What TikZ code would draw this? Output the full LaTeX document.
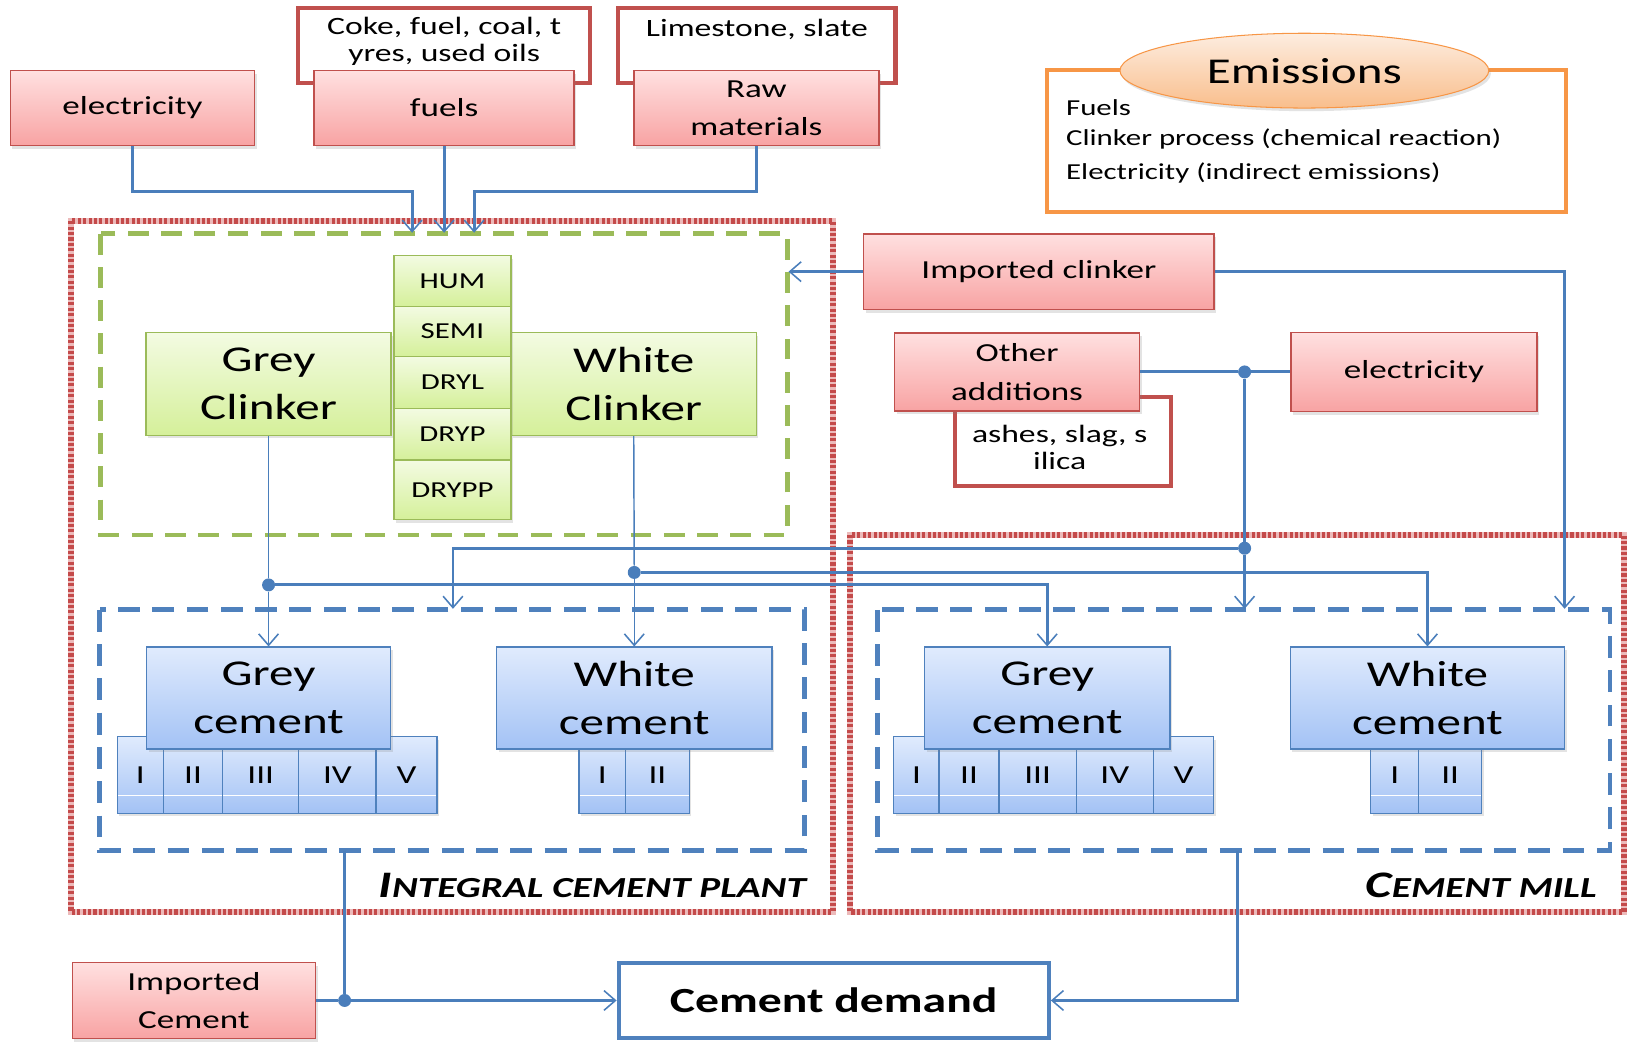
\documentclass[tikz,border=0pt]{standalone}
\usepackage{fontspec}
\setmainfont{Carlito}[FakeStretch=1.35]
\usetikzlibrary{arrows.meta,shapes.geometric,shadows}
\definecolor{rborder}{HTML}{C0504D}
\definecolor{rtop}{HTML}{FFE0E0}
\definecolor{rbot}{HTML}{F8A3A3}
\definecolor{gborder}{HTML}{9BBB59}
\definecolor{gtop}{HTML}{F3FBE2}
\definecolor{gbot}{HTML}{D5F09A}
\definecolor{bborder}{HTML}{4F81BD}
\definecolor{btop}{HTML}{E0EBFD}
\definecolor{bbot}{HTML}{A3C2F5}
\definecolor{lineblue}{HTML}{4A7EBB}
\definecolor{oborder}{HTML}{F79646}
\definecolor{otop}{HTML}{FDEDE0}
\definecolor{obot}{HTML}{F9BE8C}
\definecolor{dotred}{HTML}{C44A4A}
\definecolor{dotpink}{HTML}{ECBABA}
\newcommand{\fsz}[2]{\fontsize{#1}{#2}\selectfont}
\begin{document}
\begin{tikzpicture}[x=1pt,y=-1pt,
  shad/.style={drop shadow={opacity=0.22,shadow xshift=2pt,shadow yshift=-3pt}},
  redbox/.style={draw=rborder, line width=1.5pt, top color=rtop, bottom color=rbot, shad,
    align=center, inner sep=0pt, font=\fsz{25}{37}},
  notebox/.style={draw=rborder, line width=4pt, fill=white},
  notetext/.style={align=center, inner sep=0pt, font=\fsz{24}{26}},
  greenbox/.style={draw=gborder, line width=1.5pt, top color=gtop, bottom color=gbot, shad,
    align=center, inner sep=0pt, font=\fsz{35}{46}},
  humbox/.style={greenbox, font=\fsz{22}{22}, minimum width=113},
  bluebox/.style={draw=bborder, line width=1.5pt, top color=btop, bottom color=bbot, shad,
    align=center, inner sep=0pt, font=\fsz{35}{46}, minimum height=98},
  romanbox/.style={draw=bborder, line width=1.2pt, top color=btop, bottom color=bbot, shad,
    inner sep=0pt, font=\fsz{25}{25}, minimum height=73.8,
    path picture={\draw[white,line width=0.8pt]
      ([yshift=-20pt]path picture bounding box.west) -- ([yshift=-20pt]path picture bounding box.east);}},
  reddot/.style={draw=dotred, line width=5.5pt, dash pattern=on 3pt off 2.2pt,
    preaction={draw=dotpink, line width=5.5pt, solid}},
  greendash/.style={draw=gborder, line width=4.5pt, dash pattern=on 20pt off 12pt},
  bluedash/.style={draw=bborder, line width=4.6pt, dash pattern=on 21pt off 12pt},
  wire/.style={draw=lineblue, line width=2.8pt},
  thinwire/.style={draw=lineblue, line width=1.4pt},
  arr/.style={-{Straight Barb[length=11pt,width=19pt,line width=1.5pt]}},
  jdot/.style={circle, fill=lineblue, inner sep=0pt, minimum size=12.5pt}
]
\useasboundingbox (0,0) rectangle (1568,1009);

% ---------- frames ----------
\coordinate (ipTL) at (68,213);   \coordinate (ipBR) at (802,877.5);
\coordinate (cmTL) at (818,515);  \coordinate (cmBR) at (1563,877.5);
\coordinate (gTL) at (97,225);    \coordinate (gBR) at (758,515);
\coordinate (bpTL) at (96,587);   \coordinate (bpBR) at (774.6,818.7);
\coordinate (bmTL) at (844.8,587); \coordinate (bmBR) at (1549.6,818.7);
\draw[reddot] (ipTL) rectangle (ipBR);
\draw[reddot] (cmTL) rectangle (cmBR);
\draw[greendash] (gTL) rectangle (gBR);
\draw[bluedash] (bpTL) rectangle (bpBR);
\draw[bluedash] (bmTL) rectangle (bmBR);

% ---------- note boxes (behind) ----------
\node[notebox, minimum width=281, minimum height=72] (cokenote) at (427.5,44) {};
\node[notetext] (coketext) at (427.5,40) {Coke, fuel, coal, t\\yres, used oils};
\node[notebox, minimum width=267, minimum height=72] (limenote) at (728.5,44) {};
\node[notetext] (limetext) at (728.5,28) {Limestone, slate};
\node[notebox, minimum width=208, minimum height=86] (ashnote) at (1023,425) {};
\node[notetext] (ashtext) at (1020,431) {ashes, slag, s\\ilica};

% ---------- red boxes ----------
\node[redbox, minimum width=235, minimum height=72] (elec1) at (127.5,104) {electricity};
\node[redbox, minimum width=250, minimum height=72] (fuels) at (427.5,104) {fuels};
\node[redbox, minimum width=236, minimum height=72] (raw) at (728,104) {Raw\\materials};
\node[redbox, minimum width=337.5, minimum height=73] (impclk) at (1000,261.5) {Imported clinker};
\node[redbox, minimum width=236, minimum height=75] (othadd) at (979,358) {Other\\additions};
\node[redbox, minimum width=237, minimum height=76] (elec2) at (1361,358) {electricity};
\node[redbox, minimum width=234, minimum height=73] (impcem) at (186.7,963) {Imported\\Cement};

% ---------- emissions ----------
\node[draw=oborder, line width=4pt, fill=white, minimum width=499, minimum height=137] (embox) at (1257.5,135.5) {};
\node[ellipse, draw=oborder, line width=1pt, top color=otop, bottom color=obot, shad,
  minimum width=355, minimum height=72, inner sep=0pt, font=\fsz{35}{35}] (emell) at (1255.5,68) {Emissions};
\node[anchor=base west, inner sep=0pt, font=\fsz{22}{22}] (em1) at (1026,111) {Fuels};
\node[anchor=base west, inner sep=0pt, font=\fsz{22}{22}] (em2) at (1026,140) {Clinker process (chemical reaction)};
\node[anchor=base west, inner sep=0pt, font=\fsz{22}{22}] (em3) at (1026,173) {Electricity (indirect emissions)};

% ---------- clinker ----------
\node[greenbox, minimum width=236, minimum height=99] (gclk) at (258.5,369.5) {Grey\\Clinker};
\node[greenbox, minimum width=236, minimum height=99] (wclk) at (610,369.5) {White\\Clinker};
\node[humbox, minimum height=49] (hum) at (435.5,270.5) {HUM};
\node[humbox, minimum height=48] (semi) at (435.5,319) {SEMI};
\node[humbox, minimum height=50] (dryl) at (435.5,368) {DRYL};
\node[humbox, minimum height=50] (dryp) at (435.5,418) {DRYP};
\node[humbox, minimum height=57] (drypp) at (435.5,471.5) {DRYPP};

% ---------- cement types ----------
\foreach \l/\r/\t [count=\i] in {112.8/157.4/I, 157.4/214.3/II, 214.3/287.6/III, 287.6/361.9/IV, 361.9/420.6/V}
  \node[romanbox, minimum width={\r-\l}] (pg\i) at ({(\l+\r)/2},745.9) {\t};
\foreach \l/\r/\t [count=\i] in {557.2/602.2/I, 602.2/663.5/II}
  \node[romanbox, minimum width={\r-\l}] (pw\i) at ({(\l+\r)/2},745.9) {\t};
\foreach \l/\r/\t [count=\i] in {860.3/903.9/I, 903.9/961.5/II, 961.5/1036/III, 1036/1110.2/IV, 1110.2/1168.4/V}
  \node[romanbox, minimum width={\r-\l}] (mg\i) at ({(\l+\r)/2},745.9) {\t};
\foreach \l/\r/\t [count=\i] in {1319.5/1365.5/I, 1365.5/1426.1/II}
  \node[romanbox, minimum width={\r-\l}] (mw\i) at ({(\l+\r)/2},745.9) {\t};

\node[bluebox, minimum width=235] (gcp) at (258.5,672) {Grey\\cement};
\node[bluebox, minimum width=265] (wcp) at (610.5,672) {White\\cement};
\node[bluebox, minimum width=236] (gcm) at (1008,672) {Grey\\cement};
\node[bluebox, minimum width=264] (wcm) at (1374,672) {White\\cement};

% ---------- demand ----------
\node[draw=bborder, line width=4pt, fill=white, minimum width=414, minimum height=72,
  inner sep=0pt, font=\fsz{34}{34}\bfseries] (demand) at (802.5,963) {Cement demand};

% ---------- labels ----------
\node[anchor=base east, inner sep=0pt, font=\bfseries\itshape] (iplabel) at (776,863.5)
  {{\fsz{36}{36}I}{\fsz{28}{28}NTEGRAL CEMENT PLANT}};
\node[anchor=base east, inner sep=0pt, font=\bfseries\itshape] (cmlabel) at (1537,863.5)
  {{\fsz{36}{36}C}{\fsz{28}{28}EMENT MILL}};

% ---------- junctions and ends ----------
\coordinate (gIn1) at (396.7,224);
\coordinate (gIn2) at (427.5,224);
\coordinate (gIn3) at (456.4,224);
\coordinate (gIn4) at (759,261.5);
\coordinate (bpIn) at (436,586);
\coordinate (bmIn1) at (1198,586);
\coordinate (bmIn2) at (1506,586);
\coordinate (bpOut) at (331.7,818.7);
\coordinate (bmOut) at (1191,818.7);
\node[jdot] (j1) at (1198,358) {};
\node[jdot] (j2) at (1198,527.7) {};
\node[jdot] (j3) at (258.5,563) {};
\node[jdot] (j4) at (610.5,551) {};
\node[jdot] (j5) at (331.7,963) {};

% ---------- connectors ----------
\draw[wire,arr] (elec1.south) -- ++(0,43.5) -| (gIn1);
\draw[wire,arr] (fuels.south) -- (gIn2);
\draw[wire,arr] (raw.south) -- ++(0,43.5) -| (gIn3);
\draw[wire,arr] (impclk.west) -- (gIn4);
\draw[wire,arr] (impclk.east) -| (bmIn2);
\draw[wire] (othadd.east) -- (j1);
\draw[wire] (j1) -- (elec2.west);
\draw[wire] (j1) -- (j2);
\draw[wire,arr] (j2) -- (bmIn1);
\draw[wire,arr] (j2) -| (bpIn);
\draw[thinwire] (gclk.south) -- (j3);
\draw[thinwire,arr] (j3) -- (gcp.north);
\draw[wire,arr] (j3) -| (gcm.north);
\draw[thinwire] (wclk.south) -- (j4);
\draw[thinwire,arr] (j4) -- (wcp.north);
\draw[wire,arr] (j4) -| (wcm.north);
\draw[wire] (bpOut) -- (j5);
\draw[wire] (impcem.east) -- (j5);
\draw[wire,arr] (j5) -- (demand.west);
\draw[wire,arr] (bmOut) |- (demand.east);
\end{tikzpicture}
\end{document}
